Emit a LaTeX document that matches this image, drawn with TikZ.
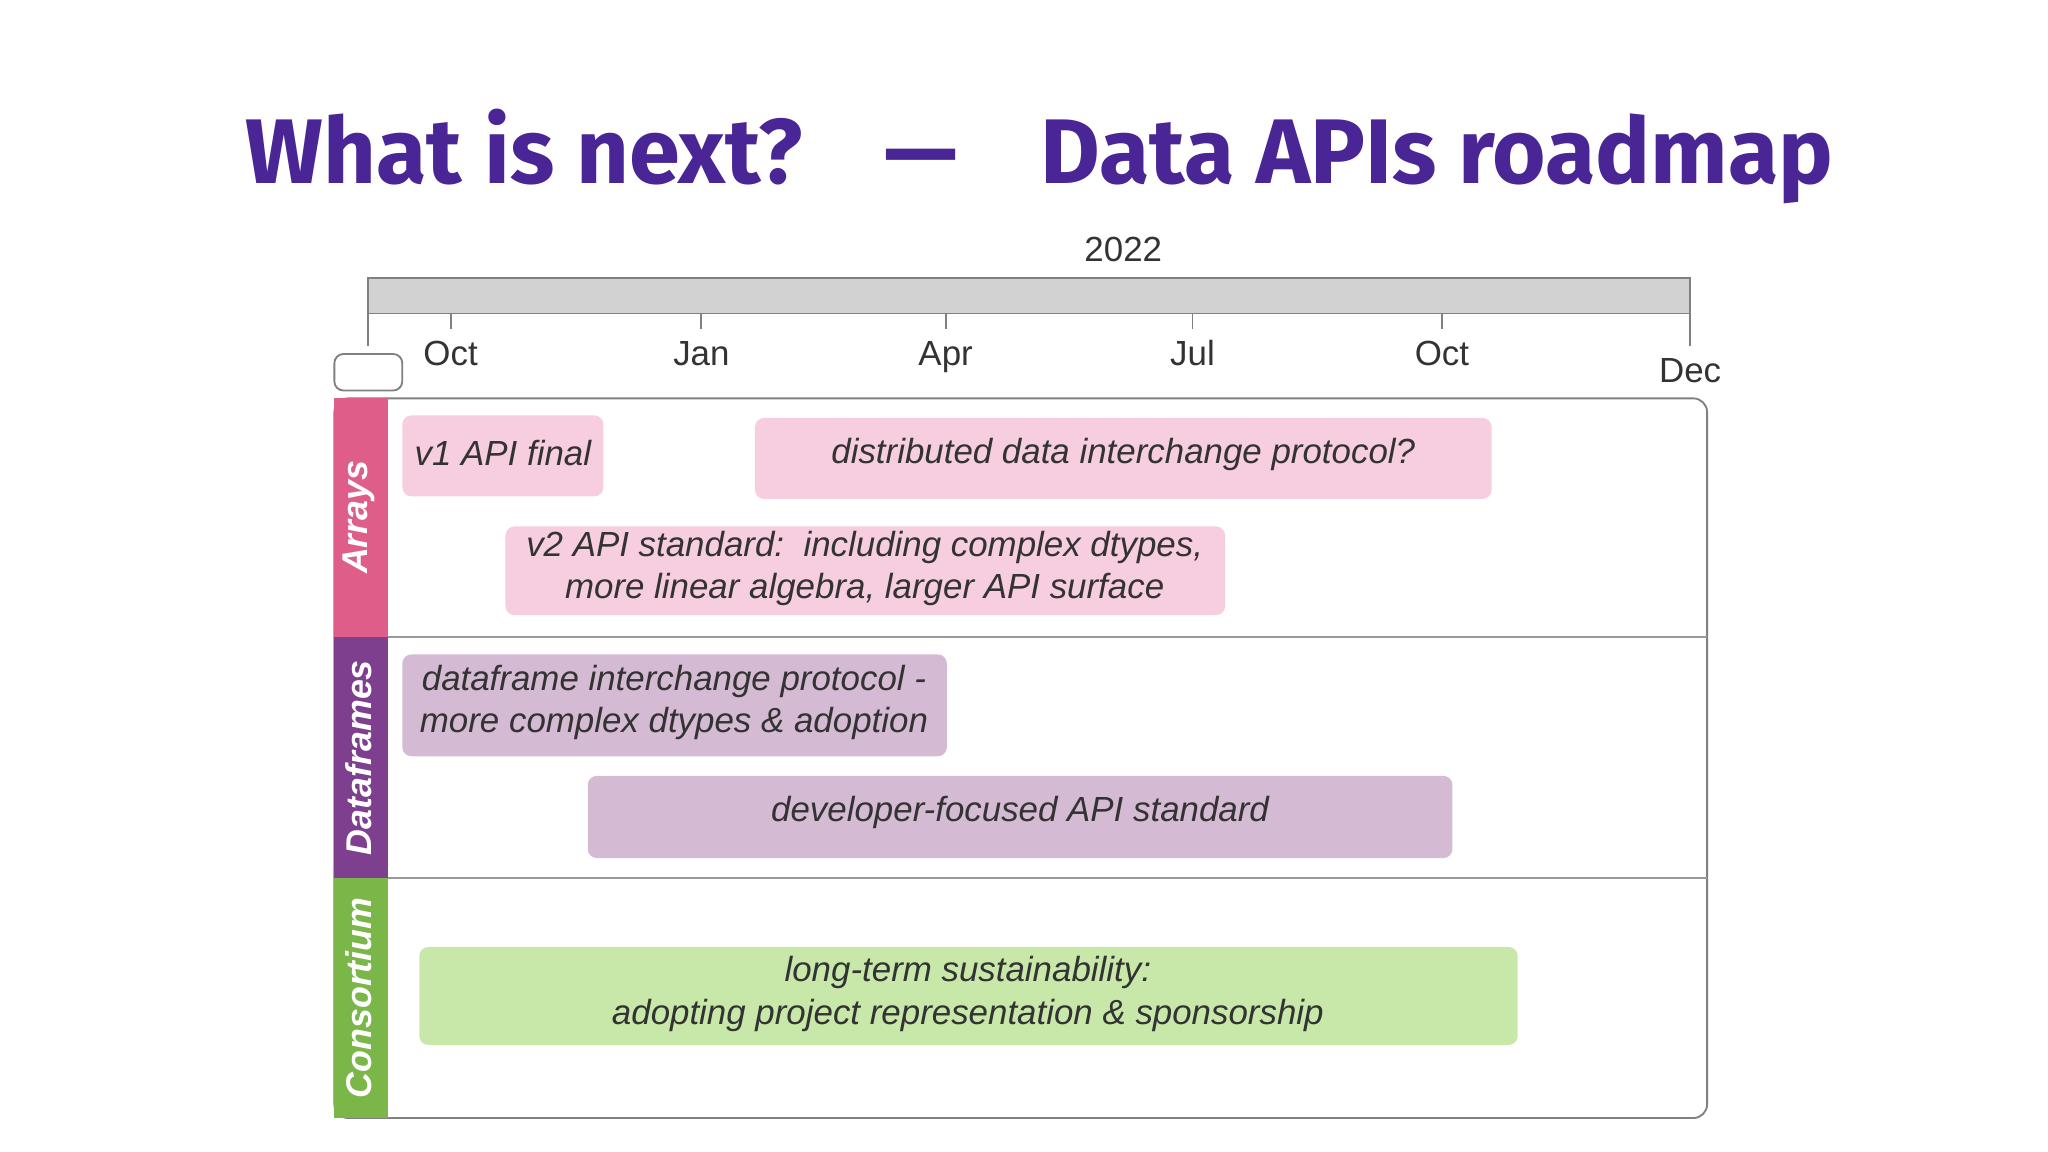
\documentclass[tikz,border=0pt]{standalone}
\usepackage{fontspec}
\setmainfont{Liberation Sans}
\newfontfamily\titlefont{Fira Sans}
\definecolor{titlepurple}{HTML}{4A2595}
\definecolor{arrayband}{HTML}{DF5E89}
\definecolor{frameband}{HTML}{7E3F8F}
\definecolor{consband}{HTML}{7AB648}
\definecolor{arraybar}{HTML}{F7CEDF}
\definecolor{framebar}{HTML}{D5BAD4}
\definecolor{consbar}{HTML}{C7E8A9}
\definecolor{txtgray}{HTML}{333333}
\tikzset{
  bar/.style={draw=none, rounded corners=2pt},
  bartext/.style={font=\fontsize{7.6}{9.2}\selectfont\itshape, text=txtgray, align=center},
  month/.style={font=\fontsize{7.6}{9}\selectfont, text=txtgray, anchor=base},
  band/.style={rounded corners=2pt, draw=gray},
  bandtext/.style={rotate=90, text=white, font=\fontsize{7.8}{9}\selectfont\bfseries\itshape}
}
\begin{document}
\begin{tikzpicture}[x=0.1mm, y=-0.1mm]
\useasboundingbox (0,0) rectangle (1568,882);
% title
\node[font=\titlefont\fontsize{20}{24}\selectfont\bfseries, text=titlepurple] (title) at (796,120) {What is next?\hspace{0.9em}—\hspace{0.9em}Data APIs roadmap};
% time axis
\node[month] (year) at (860,200) {2022};
\draw[gray, fill=gray!35] (282,213) rectangle (1294,240);
\draw[gray] (282,240) -- (282,265);
\draw[gray] (1294,240) -- (1294,265);
\foreach \x/\m in {345/Oct, 537/Jan, 724/Apr, 913/Jul, 1104/Oct}{
  \draw[gray] (\x,240) -- (\x,252);
  \node[month] at (\x,280) {\m};
}
\node[month] (dec) at (1294,293) {Dec};
\draw[gray, rounded corners=2pt] (256,271) rectangle (308,299);
% frame and rows
\draw[gray, rounded corners=3pt] (256,305) rectangle (1307,856);
\draw[gray!80] (297,488) -- (1307,488);
\draw[gray!80] (297,672) -- (1307,672);
\fill[arrayband] (256,305) rectangle (297,488);
\fill[frameband] (256,488) rectangle (297,672);
\fill[consband] (256,672) rectangle (297,856);
\node[bandtext] (arrays) at (275,396) {Arrays};
\node[bandtext] (dataframes) at (275,580) {Dataframes};
\node[bandtext] (consortium) at (275,764) {Consortium};
% arrays
\fill[bar, arraybar] (308,318) rectangle (462,380);
\node[bartext] (v1) at (385,347) {v1 API final};
\fill[bar, arraybar] (578,320) rectangle (1142,382);
\node[bartext] (ddip) at (860,348) {distributed data interchange protocol?};
\fill[bar, arraybar] (387,403) rectangle (938,471);
\node[bartext] (v2) at (662,435) {v2 API standard:\ \ including complex dtypes,\\more linear algebra, larger API surface};
% dataframes
\fill[bar, framebar] (308,501) rectangle (725,579);
\node[bartext] (dfip) at (516,538) {dataframe interchange protocol -\\more complex dtypes \& adoption};
\fill[bar, framebar] (450,594) rectangle (1112,657);
\node[bartext] (dev) at (781,622) {developer-focused API standard};
% consortium
\fill[bar, consbar] (321,725) rectangle (1162,800);
\node[bartext] (sust) at (741,761) {long-term sustainability:\\adopting project representation \& sponsorship};
\end{tikzpicture}
\end{document}
